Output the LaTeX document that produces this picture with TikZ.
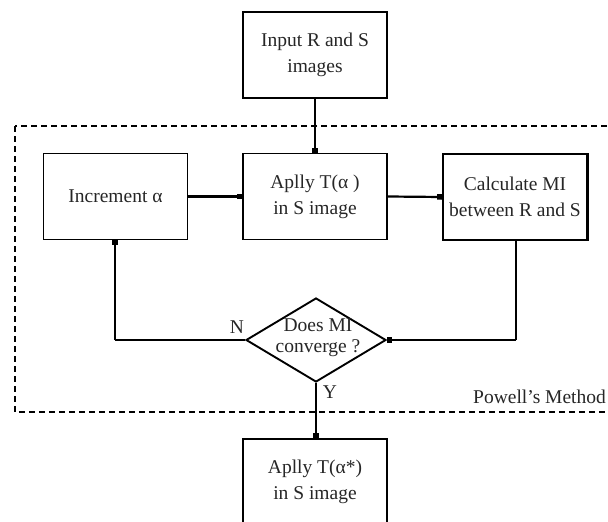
\documentclass[tikz,border=0pt]{standalone}
\usepackage{fontspec}
\setmainfont{Liberation Serif}
\usetikzlibrary{shapes.geometric,arrows.meta}
\begin{document}
\begin{tikzpicture}[x=1pt,y=-1pt,
  every node/.style={font=\fontsize{19.5}{26}\selectfont,text=black!85},
  procbox/.style={draw,line width=1.9pt,minimum width=144pt,minimum height=86pt,inner sep=0pt,align=center},
  conn/.style={line width=2.2pt,-{Square[length=5pt,width=5.5pt]}},
  lbl/.style={inner sep=0pt}
]
\useasboundingbox (0,0) rectangle (608,522);
\clip (0,0) rectangle (608,522);
% dashed region
\draw[line width=1.8pt,dash pattern=on 6pt off 4pt] (15,126) rectangle (640,412);
\node[lbl,anchor=base west] (pm) at (473,403) {Powell’s Method};
% boxes
\node[procbox] (inp) at (315,55) {Input R and S\\images};
\node[procbox] (inc) at (115.5,196.5) {Increment α};
\node[procbox] (app) at (315,196.5) {Aplly T(α )\\in S image};
\node[procbox] (cal) at (515,197) {Calculate MI\\between R and S};
\draw[line width=2.6pt] (cal.north east) -- (cal.south east);
\node[draw,line width=1.9pt,shape=diamond,inner sep=0pt,minimum width=140pt,minimum height=84pt] (dia) at (316,340) {};
\node[lbl,align=center,font=\fontsize{19.5}{21}\selectfont] (diatext) at (318,338) {Does MI\\converge ?};
\node[procbox] (fin) at (315,482) {Aplly T(α*)\\in S image};
% labels
\node[lbl,anchor=base] (nlab) at (237,333) {N};
\node[lbl,anchor=base] (ylab) at (330,398) {Y};
% connectors
\draw[conn] (inp.south) -- (app.north);
\draw[conn] (inc.east) -- (app.west);
\draw[conn] (app.east) -- (cal.west);
\coordinate (c1) at (516,340);
\draw[line width=1.8pt] (cal.south -| c1) -- (c1);
\draw[conn] (c1) -- (dia.east);
\coordinate (c2) at (115,340);
\draw[line width=2.2pt] (dia.west) -- (c2);
\draw[line width=1.6pt,-{Square[length=5pt,width=5.5pt]}] (c2) -- (c2 |- inc.south);
\draw[conn] (dia.south) -- (fin.north -| dia.south);
\end{tikzpicture}
\end{document}
